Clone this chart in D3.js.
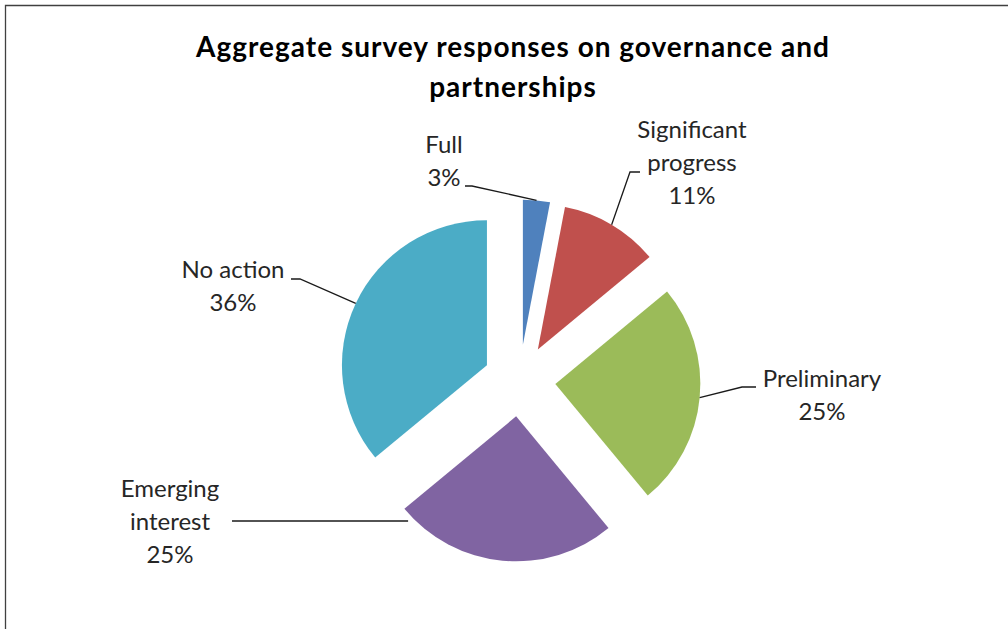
<!DOCTYPE html>
<html>
<head>
<meta charset="utf-8">
<script src="https://cdn.jsdelivr.net/npm/d3@7"></script>
<style>
  html, body { margin: 0; padding: 0; background: #fff; }
  svg { display: block; }
</style>
</head>
<body>
<div id="chart"></div>
<script>
const categories = ["Full", "Significant progress", "Preliminary", "Emerging interest", "No action"];
const values = [3, 11, 25, 25, 36];
const labelLines = [["Full", "3%"], ["Significant", "progress", "11%"], ["Preliminary", "25%"], ["Emerging", "interest", "25%"], ["No action", "36%"]];
const colors = ["#4f81bd", "#c0504d", "#9bbb59", "#8064a2", "#4bacc6"];

const width = 1008, height = 629;
const cx = 519.5, cy = 380.5, radius = 145, explode = 36;

// label placement: text centre, first baseline, leader start/elbow, anchor angle fraction inside slice
const layout = [
  { x: 444, y: 153, lead: [[465, 186], [472, 186]], frac: 0.5 },
  { x: 692, y: 138, lead: [[640, 172], [630, 172]], frac: 0.5 },
  { x: 822, y: 387, lead: [[756, 387], [742, 387]], frac: 0.5 },
  { x: 170, y: 497, lead: [[232, 521]], frac: 0.975 },
  { x: 233, y: 278, lead: [[291, 279], [300, 279]], frac: 0.5 }
];

const svg = d3.select("#chart").append("svg")
  .attr("width", width)
  .attr("height", height);

svg.append("rect").attr("width", width).attr("height", height).attr("fill", "#fff");

// frame
svg.append("path")
  .attr("d", `M5.5,${height} V5.5 H${width}`)
  .attr("fill", "none")
  .attr("stroke", "#404040")
  .attr("stroke-width", 1.3);

const title = svg.append("text")
  .attr("text-anchor", "middle")
  .attr("font-family", "Lato, 'Open Sans', sans-serif")
  .attr("font-weight", 700)
  .attr("font-size", 28)
  .attr("letter-spacing", 1)
  .attr("fill", "#000");
title.append("tspan").attr("x", 513).attr("y", 57).text("Aggregate survey responses on governance and");
title.append("tspan").attr("x", 513).attr("y", 97).text("partnerships");

const pie = d3.pie().value(d => d).sort(null);
const arc = d3.arc().innerRadius(0).outerRadius(radius);
const arcs = pie(values);

const offset = d => {
  const m = (d.startAngle + d.endAngle) / 2;
  return [explode * Math.sin(m), -explode * Math.cos(m)];
};

const g = svg.append("g").attr("transform", `translate(${cx},${cy})`);

g.selectAll("path.slice")
  .data(arcs)
  .join("path")
  .attr("class", "slice")
  .attr("transform", d => `translate(${offset(d)})`)
  .attr("fill", (d, i) => colors[i])
  .attr("d", arc);

// leader lines
arcs.forEach((d, i) => {
  const [ox, oy] = offset(d);
  const a = d.startAngle + (d.endAngle - d.startAngle) * layout[i].frac;
  let ax = cx + ox + radius * Math.sin(a);
  let ay = cy + oy - radius * Math.cos(a);
  const pts = layout[i].lead.slice();
  if (i === 3) ay = pts[0][1];
  pts.push([ax, ay]);
  svg.append("path")
    .attr("d", d3.line()(pts))
    .attr("fill", "none")
    .attr("stroke", "#1a1a1a")
    .attr("stroke-width", 1.3);
});

// labels
const labels = svg.append("g")
  .attr("font-family", "Lato, 'Open Sans', sans-serif")
  .attr("font-size", 24)
  .attr("fill", "#262626")
  .attr("text-anchor", "middle");

labelLines.forEach((lines, i) => {
  const t = labels.append("text");
  lines.forEach((s, j) => {
    t.append("tspan")
      .attr("x", layout[i].x)
      .attr("y", layout[i].y + j * 33)
      .text(s);
  });
});
</script>
</body>
</html>
